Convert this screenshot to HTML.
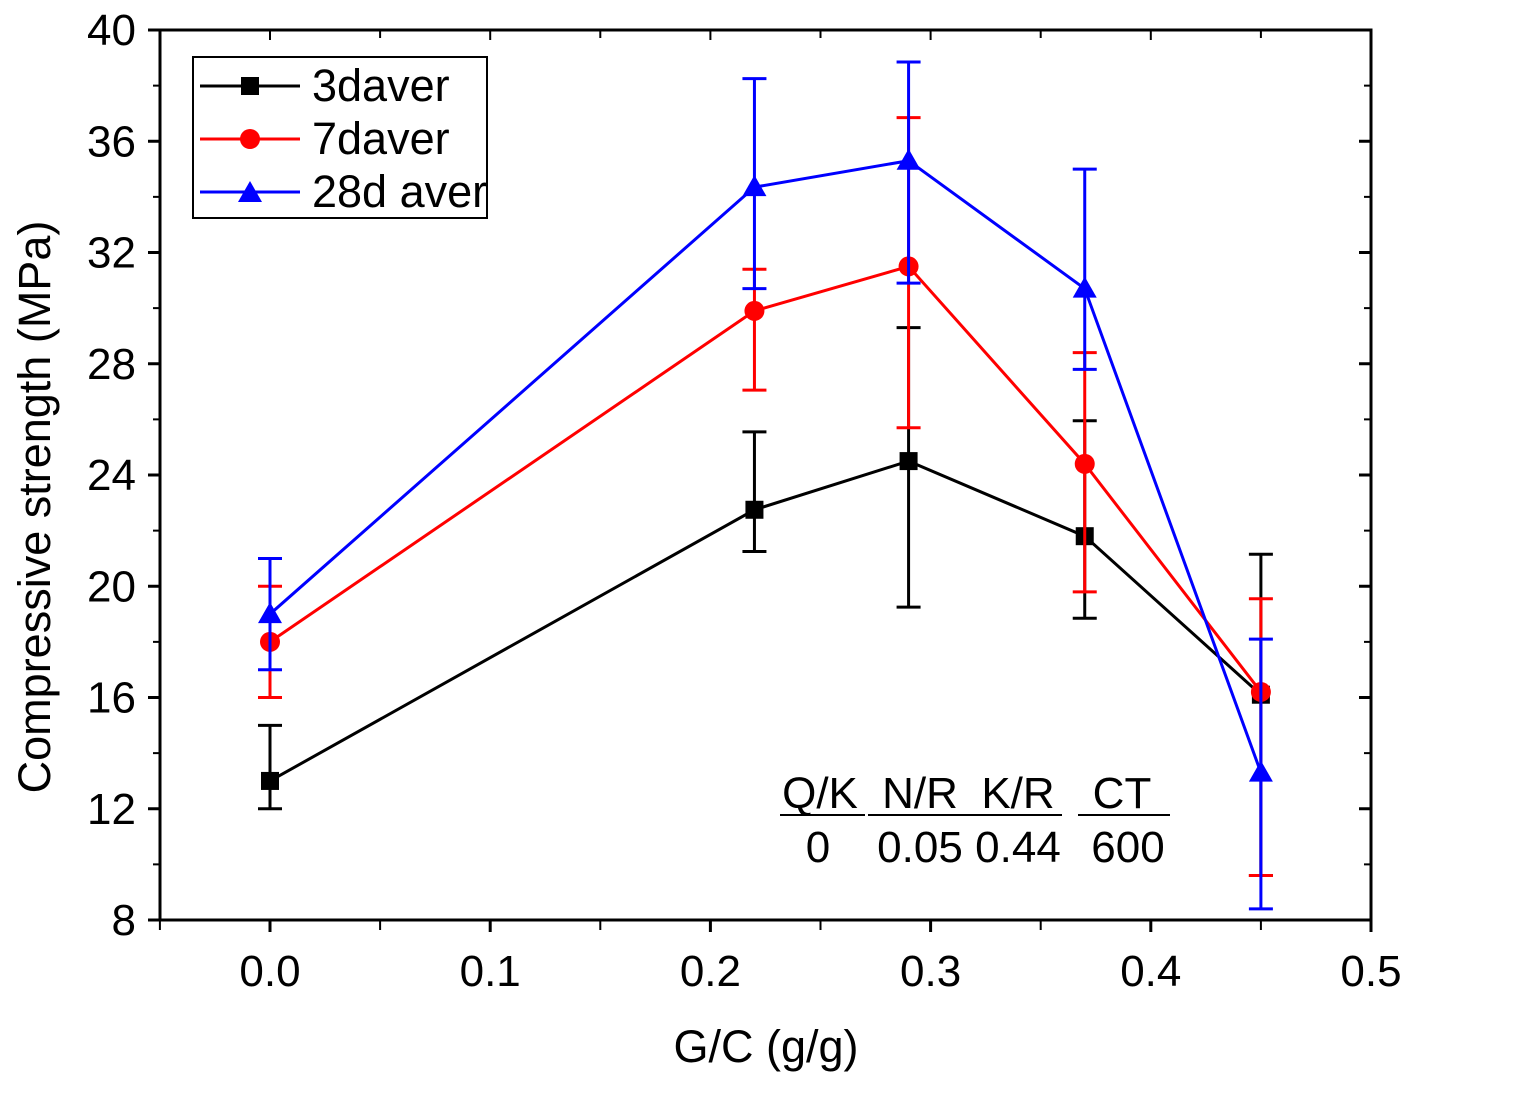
<!DOCTYPE html>
<html><head><meta charset="utf-8"><style>
body{margin:0;background:#fff}
svg{display:block;font-family:"Liberation Sans",sans-serif}
</style></head><body>
<svg id="chart" width="1516" height="1120">
<rect x="160" y="30" width="1211" height="890" fill="none" stroke="#000" stroke-width="3"/>
<g id="axes"></g>
<g id="series"></g>
<text x="766" y="1062" font-size="45" text-anchor="middle">G/C (g/g)</text>
<text transform="translate(50,507) rotate(-90)" font-size="45" text-anchor="middle">Compressive strength (MPa)</text>
<g>
<rect x="193" y="57" width="294" height="161" fill="#fff" stroke="#000" stroke-width="2"/>
<g><line x1="200" y1="86" x2="300" y2="86" stroke="#000" stroke-width="3"/><rect x="241" y="77" width="18" height="18" fill="#000"/><text x="312" y="101" font-size="45">3daver</text></g>
<g><line x1="200" y1="139" x2="300" y2="139" stroke="#f00" stroke-width="3"/><circle cx="250" cy="139" r="10" fill="#f00"/><text x="312" y="154" font-size="45">7daver</text></g>
<g><line x1="200" y1="192" x2="300" y2="192" stroke="#00f" stroke-width="3"/><polygon points="250,181 262,202 238,202" fill="#00f"/><text x="312" y="207" font-size="45">28d aver</text></g>
</g>
<g font-size="44" text-anchor="middle">
<text x="820" y="808">Q/K</text><text x="920" y="808">N/R</text><text x="1018" y="808">K/R</text><text x="1122" y="808">CT</text>
<line x1="780" y1="815" x2="865" y2="815" stroke="#000" stroke-width="2"/>
<line x1="868" y1="815" x2="1062" y2="815" stroke="#000" stroke-width="2"/>
<line x1="1078" y1="815" x2="1170" y2="815" stroke="#000" stroke-width="2"/>
<text x="818" y="862">0</text><text x="920" y="862">0.05</text><text x="1018" y="862">0.44</text><text x="1128" y="862">600</text>
</g>
</svg>
<script>
const xs=[0,0.22,0.29,0.37,0.45];
const s3=[13,22.75,24.5,21.8,16.1];
const s3lo=[12,21.25,19.25,18.85,9.6];
const s3hi=[15,25.55,29.3,25.95,21.15];
const s7=[18,29.9,31.5,24.4,16.2];
const s7lo=[16,27.05,25.7,19.8,9.6];
const s7hi=[20,31.4,36.85,28.4,19.55];
const s28=[19,34.35,35.3,30.7,13.3];
const s28lo=[17,30.7,30.9,27.8,8.4];
const s28hi=[21,38.25,38.85,35,18.1];
const yTicks=[8,12,16,20,24,28,32,36,40];
const xTicks=[0.0,0.1,0.2,0.3,0.4,0.5];
const xTickLabels=["0.0","0.1","0.2","0.3","0.4","0.5"];
const NS="http://www.w3.org/2000/svg";
const X=v=>270+(v)*2202;
const Y=v=>920-(v-8)*(890/32);
function mk(t,a,p){const e=document.createElementNS(NS,t);for(const k in a)e.setAttribute(k,a[k]);p.appendChild(e);return e;}
const ax=document.getElementById('axes');
yTicks.forEach((t,i)=>{
 const y=Y(t);
 const l=mk('line',{x1:148,y1:y,x2:160,y2:y,stroke:'#000','stroke-width':3},ax);
 
 
 mk('line',{x1:1359,y1:y,x2:1371,y2:y,stroke:'#000','stroke-width':3},ax);
 const tx=mk('text',{x:136,y:y+15,'font-size':44,'text-anchor':'end'},ax);
 tx.textContent=t;
 
 
 if(i<yTicks.length-1){const ym=Y(t+2);
  mk('line',{x1:153,y1:ym,x2:160,y2:ym,stroke:'#000','stroke-width':2},ax);
  mk('line',{x1:1364,y1:ym,x2:1371,y2:ym,stroke:'#000','stroke-width':2},ax);}
});
[-0.05].concat(xTicks).forEach((t)=>{
 const x=X(t);
 mk('line',{x1:x,y1:920,x2:x,y2:930,stroke:'#000','stroke-width':2},ax);
 mk('line',{x1:x,y1:30,x2:x,y2:40,stroke:'#000','stroke-width':2},ax);
});
xTicks.forEach((t,i)=>{
 const x=X(t);
 mk('line',{x1:x,y1:920,x2:x,y2:932,stroke:'#000','stroke-width':3},ax);
 const m=X(t+0.05);
 if(t<0.5){mk('line',{x1:m,y1:920,x2:m,y2:930,stroke:'#000','stroke-width':2},ax);mk('line',{x1:m,y1:30,x2:m,y2:38,stroke:'#000','stroke-width':2},ax);}
 const tx=mk('text',{x:x,y:986,'font-size':44,'text-anchor':'middle'},ax);
 tx.textContent=xTickLabels[i];
 
 
});
const sg=document.getElementById('series');
function series(vals,lo,hi,col,shape,name){
 const g=mk('g',{},sg);
 
 
 xs.forEach((x,i)=>{const px=X(x);
  mk('line',{x1:px,y1:Y(lo[i]),x2:px,y2:Y(hi[i]),stroke:col,'stroke-width':3},g);
  mk('line',{x1:px-12,y1:Y(lo[i]),x2:px+12,y2:Y(lo[i]),stroke:col,'stroke-width':3},g);
  mk('line',{x1:px-12,y1:Y(hi[i]),x2:px+12,y2:Y(hi[i]),stroke:col,'stroke-width':3},g);
 });
 mk('polyline',{points:xs.map((x,i)=>X(x)+','+Y(vals[i])).join(' '),fill:'none',stroke:col,'stroke-width':3},g);
 xs.forEach((x,i)=>{const px=X(x),py=Y(vals[i]);let m;
  if(shape==='sq')m=mk('rect',{x:px-9,y:py-9,width:18,height:18,fill:col},g);
  else if(shape==='c')m=mk('circle',{cx:px,cy:py,r:10,fill:col},g);
  else m=mk('polygon',{points:`${px},${py-12} ${px+12},${py+9} ${px-12},${py+9}`,fill:col},g);
  
  
 });
}
series(s3,s3lo,s3hi,'#000','sq','series-3d');
series(s7,s7lo,s7hi,'#f00','c','series-7d');
series(s28,s28lo,s28hi,'#00f','t','series-28d');
</script>
</body></html>
